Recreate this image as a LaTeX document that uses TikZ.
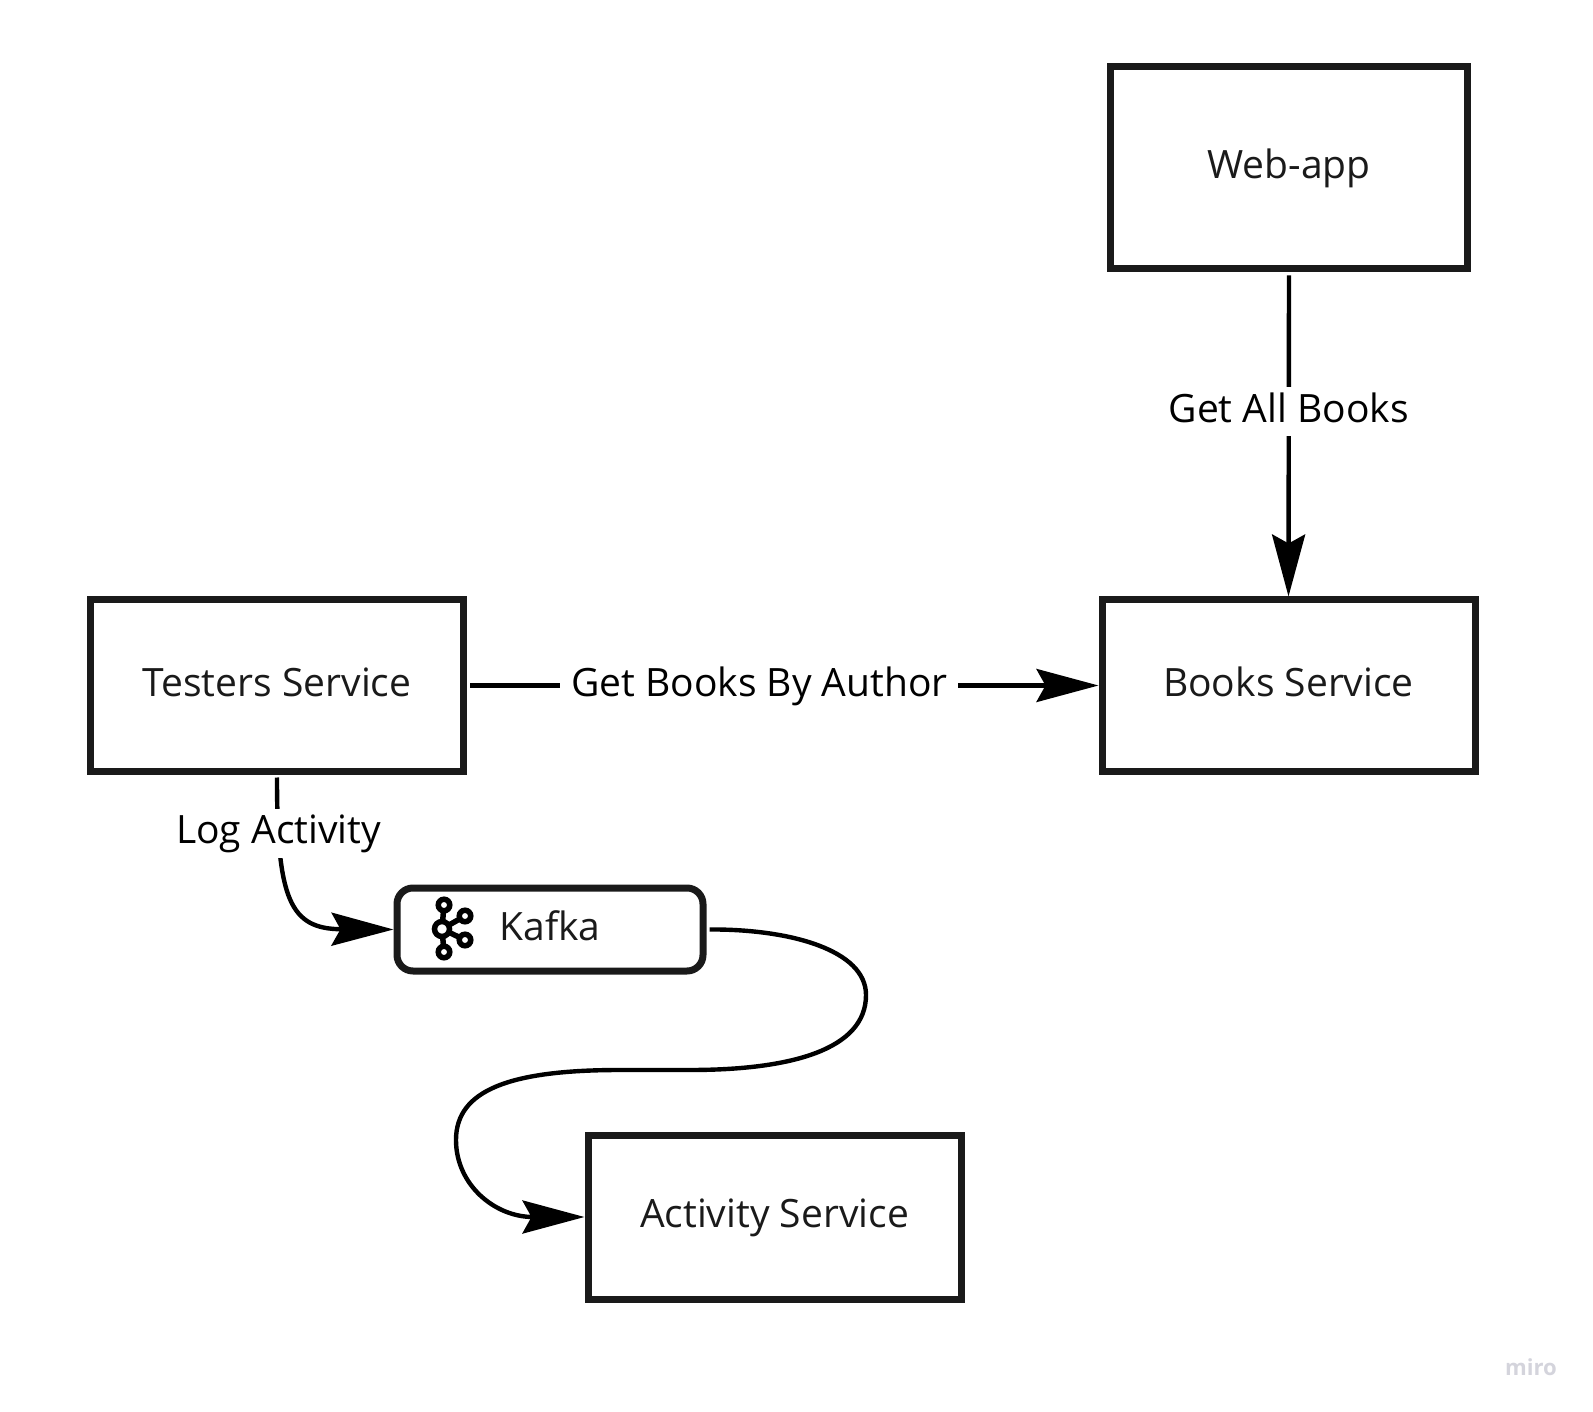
\documentclass[tikz,border=0pt]{standalone}
\usepackage{xcolor}
\usepackage{fontspec}
\setmainfont{Open Sans}
\usetikzlibrary{arrows.meta, calc}
\definecolor{inkDark}{HTML}{1A1A1A}
\definecolor{miroGrey}{HTML}{D4D4DC}

\begin{document}
\begin{tikzpicture}[>={Stealth[length=6.2mm, width=3.3mm, inset=0.9mm]}, every node/.style={font=\fontsize{11.1}{13}\selectfont, text=inkDark},
    servicebox/.style={draw=inkDark, line width=0.7mm, fill=white, align=center, inner sep=0pt, text height=9pt, text depth=3pt},
    flowlabel/.style={fill=white, text=black, inner xsep=3pt, inner ysep=1pt, text height=9pt, text depth=3pt},
    flowline/.style={black, line width=0.44mm, shorten <=0.3mm},
    kafkaring/.style={circle, draw=black, line width=0.55mm, fill=white, inner sep=0pt, minimum size=#1}]
  \useasboundingbox (0,0) rectangle (15.93,-14.12);

  \node[servicebox, minimum width=3.57cm, minimum height=2.02cm] (webApp) at (12.89,-1.68) {Web-app};
  \node[servicebox, minimum width=3.73cm, minimum height=1.71cm] (booksService) at (12.885,-6.855) {Books Service};
  \node[servicebox, minimum width=3.73cm, minimum height=1.71cm] (testersService) at (2.77,-6.855) {Testers Service};
  \node[servicebox, minimum width=3.06cm, minimum height=0.83cm, rounded corners=1.6mm] (kafka) at (5.50,-9.295) {Kafka};
  \node[servicebox, minimum width=3.73cm, minimum height=1.64cm] (activityService) at (7.745,-12.17) {Activity Service};

  % kafka logo
  \coordinate (kafkaHub) at (4.42,-9.29);
  \foreach \name/\x/\y in {kafkaTop/4.44/-9.05, kafkaBottom/4.44/-9.52, kafkaUpper/4.65/-9.16, kafkaLower/4.65/-9.40} {
    \draw[black, line width=0.55mm] (kafkaHub) -- (\x,\y);
    \node[kafkaring=1.15mm] (\name) at (\x,\y) {};
  }
  \node[kafkaring=1.5mm] (kafkaCenter) at (kafkaHub) {};

  \draw[->, flowline] (webApp.south) -- (booksService.north) node[flowlabel, pos=0.43] {Get All Books};
  \draw[->, flowline] (testersService.east) -- (booksService.west) node[flowlabel, pos=0.463] {Get Books By Author};
  \draw[->, flowline] (testersService.south) .. controls (2.77,-9.00) and (2.90,-9.29) .. (kafka.west) node[flowlabel, pos=0.18] {Log Activity};
  \draw[->, flowline] (kafka.east) .. controls (7.90,-9.29) and (8.66,-9.50) .. (8.66,-9.95)
    .. controls (8.66,-10.50) and (7.90,-10.70) .. (6.90,-10.70)
    -- (6.20,-10.70)
    .. controls (5.10,-10.70) and (4.56,-10.90) .. (4.56,-11.40)
    .. controls (4.56,-11.85) and (4.95,-12.17) .. (activityService.west);

  \node[text=miroGrey, font=\fontsize{6.3}{8}\selectfont\bfseries] (miroMark) at (15.31,-13.67) {miro};
\end{tikzpicture}
\end{document}
